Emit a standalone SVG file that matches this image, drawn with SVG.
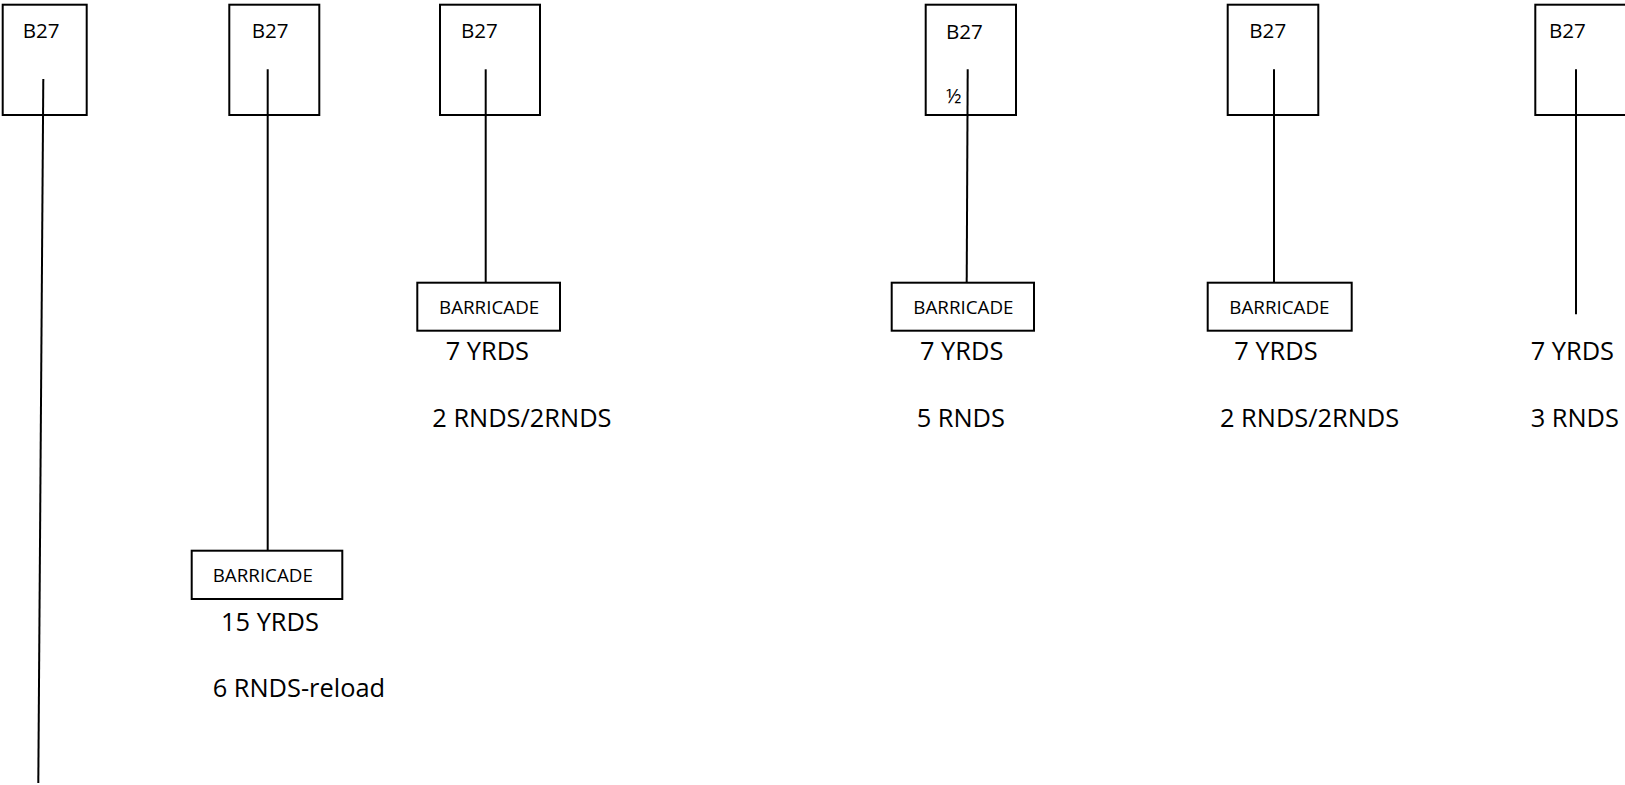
<svg xmlns="http://www.w3.org/2000/svg" width="1625" height="785" viewBox="0 0 1625 785">
<style>
.box{fill:#fff;stroke:#000;stroke-width:2}
.conn{stroke:#000;stroke-width:2;fill:none}
text{font-family:"Open Sans","Liberation Sans",sans-serif;fill:#000}
.b27{font-size:20.6px}
.bar{font-size:18.8px}
.lbl{font-size:25.4px}
.half{font-size:20px}
</style>
<rect width="1625" height="785" fill="#fff"/>
<g id="shooter1"><rect class="box" x="2.7" y="4.7" width="84" height="110.3"/><text class="b27" x="22.7" y="38">B27</text></g>
<g id="shooter2"><rect class="box" x="229.3" y="4.7" width="90" height="110.3"/><text class="b27" x="251.7" y="38">B27</text></g>
<g id="shooter3"><rect class="box" x="440" y="4.7" width="100" height="110.3"/><text class="b27" x="461" y="38">B27</text></g>
<g id="shooter4"><rect class="box" x="925.7" y="4.7" width="90.3" height="110.3"/><text class="b27" x="946" y="39">B27</text><text class="half" x="946" y="103">½</text></g>
<g id="shooter5"><rect class="box" x="1227.7" y="4.7" width="90.6" height="110.3"/><text class="b27" x="1249.3" y="38">B27</text></g>
<g id="shooter6"><rect class="box" x="1535.3" y="4.7" width="100" height="110.3"/><text class="b27" x="1549" y="38">B27</text></g>
<g id="connectors">
<line class="conn" x1="43.3" y1="79" x2="38.3" y2="783"/>
<line class="conn" x1="267.7" y1="69.3" x2="267.7" y2="550.7"/>
<line class="conn" x1="485.7" y1="69.3" x2="485.7" y2="282.7"/>
<line class="conn" x1="967.7" y1="69.3" x2="966.7" y2="282.7"/>
<line class="conn" x1="1274" y1="69.3" x2="1274" y2="282.7"/>
<line class="conn" x1="1576" y1="69.3" x2="1576" y2="314.3"/>
</g>
<g id="barricade2"><rect class="box" x="191.7" y="550.7" width="150.6" height="48.3"/><text class="bar" x="212.7" y="581.7">BARRICADE</text><text class="lbl" x="221" y="630.7">15 YRDS</text><text class="lbl" x="212.7" y="697">6 RNDS-reload</text></g>
<g id="barricade3"><rect class="box" x="417.3" y="282.7" width="142.7" height="48"/><text class="bar" x="439" y="314">BARRICADE</text><text class="lbl" x="445.7" y="360">7 YRDS</text><text class="lbl" x="432.3" y="427">2 RNDS/2RNDS</text></g>
<g id="barricade4"><rect class="box" x="891.7" y="282.7" width="142.3" height="48"/><text class="bar" x="913.3" y="314">BARRICADE</text><text class="lbl" x="920" y="360">7 YRDS</text><text class="lbl" x="916.7" y="427">5 RNDS</text></g>
<g id="barricade5"><rect class="box" x="1207.7" y="282.7" width="144" height="48"/><text class="bar" x="1229.3" y="314">BARRICADE</text><text class="lbl" x="1234.3" y="360">7 YRDS</text><text class="lbl" x="1220" y="427">2 RNDS/2RNDS</text></g>
<g id="position6"><text class="lbl" x="1530.7" y="360">7 YRDS</text><text class="lbl" x="1530.7" y="427">3 RNDS</text></g>
</svg>
